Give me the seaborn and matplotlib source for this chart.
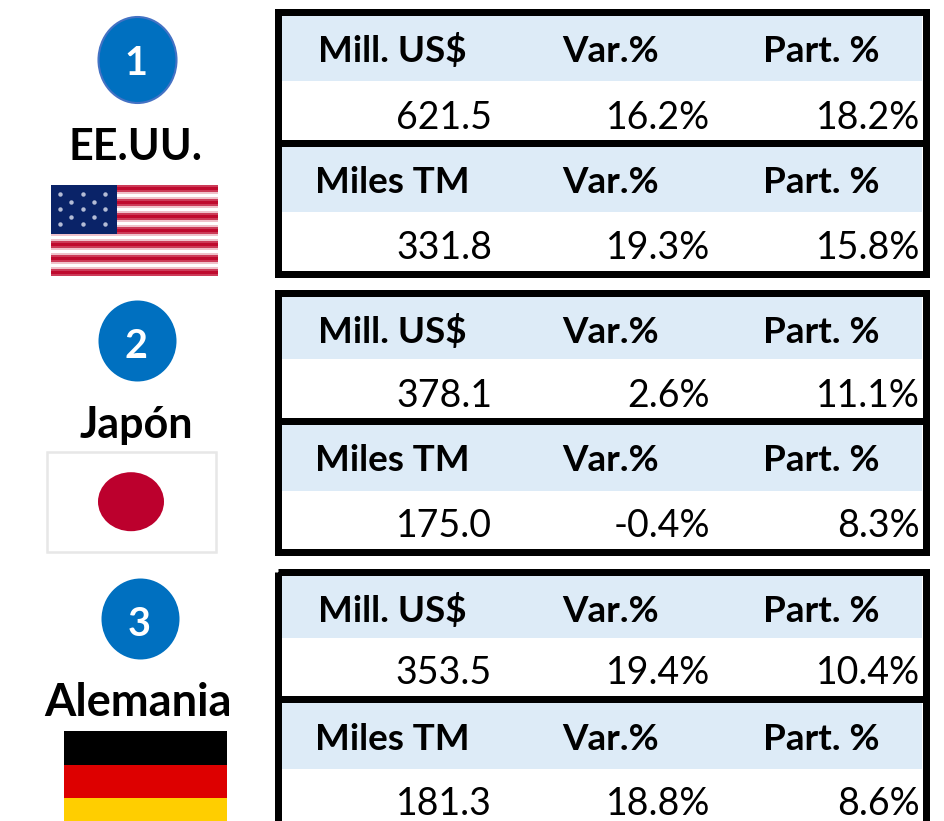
import numpy as np
import pandas as pd
import matplotlib
matplotlib.use("Agg")
import matplotlib.pyplot as plt
from matplotlib.colors import ListedColormap, LinearSegmentedColormap
from matplotlib.patches import Ellipse, Rectangle
import seaborn as sns

# ---- data ----
countries = ["EE.UU.", "Japón", "Alemania"]
ranks = [1, 2, 3]
row_titles = ["Mill. US$", "Miles TM"]
col_titles = ["Var.%", "Part. %"]
usd_values = [621.5, 378.1, 353.5]
usd_var = [16.2, 2.6, 19.4]
usd_part = [18.2, 11.1, 10.4]
tm_values = [331.8, 175.0, 181.3]
tm_var = [19.3, -0.4, 18.8]
tm_part = [15.8, 8.3, 8.6]

# ---- layout (pixels in a 944x821 canvas) ----
W, H = 944, 821
HEADER_BLUE = "#DDEBF7"
CIRCLE_BLUE = "#0070C0"
FRAMES = [(12.5, 143.5, 274.5), (293.5, 421.5, 552.5), (572, 699.5, 860)]
HEADER_SPANS = [[(16, 81), (147, 212)], [(297, 359), (425, 491)], [(575, 638), (703, 769)]]
HEAD_BASE = [(62, 193), (343, 471), (622, 750)]
VAL_BASE = [(129, 259), (407, 537), (684, 815)]
CIRCLES = [(137.5, 60, 39, 43), (137.5, 341, 39, 40.5), (140.5, 619, 39, 40.5)]
RANK_POS = [(136, 75), (136, 358), (139, 636)]
NAME_POS = [(136, 160), (136, 438), (138, 716)]
NAME_SIZES = [31.0, 31.0, 32.5]
FS_HEAD, FS_VAL, FS_RANK = 26.5, 27.0, 28.5

sns.set_theme(style="white")
plt.rcParams["font.family"] = ["Lato", "DejaVu Sans"]

fig = plt.figure(figsize=(W / 100, H / 100), dpi=100, facecolor="white")


def px_axes(x0, y0, x1, y1, **kw):
    return fig.add_axes([x0 / W, 1 - y1 / H, (x1 - x0) / W, (y1 - y0) / H], **kw)


def band(x0, y0, x1, y1, matrix, cmap, **kw):
    ax = px_axes(x0, y0, x1, y1)
    sns.heatmap(matrix, ax=ax, cmap=cmap, cbar=False, xticklabels=False,
                yticklabels=False, **kw)
    return ax


# header bands of the tables
for spans in HEADER_SPANS:
    for top, bottom in spans:
        band(281, top, 922, bottom, pd.DataFrame([[1, 1, 1]]),
             ListedColormap([HEADER_BLUE]))

# US flag: 13 softened stripes, canton on top
us_cmap = LinearSegmentedColormap.from_list("us", ["#FFFFFF", "#BF0A2E"])
red_stripe = [[0.8], [1.0], [0.8]]
white_stripe = [[0.25], [0.0], [0.25]]
stripe_shades = (red_stripe + white_stripe) * 6 + red_stripe
band(51, 185, 218, 276, pd.DataFrame(stripe_shades), us_cmap, vmin=0, vmax=1)
canton = px_axes(51, 185, 117, 234)
sns.heatmap(pd.DataFrame([[1]]), ax=canton, cmap=ListedColormap(["#0A2368"]),
            cbar=False, xticklabels=False, yticklabels=False)

# German flag
band(64, 731, 227, 832, pd.DataFrame([[0], [1], [2]]),
     ListedColormap(["#000000", "#DD0000", "#FFCE00"]), vmin=0, vmax=2)

# overlay for frames, circles and text
ov = fig.add_axes([0, 0, 1, 1], zorder=10)
ov.set_xlim(0, W)
ov.set_ylim(H, 0)
ov.axis("off")
ov.patch.set_alpha(0)

for top, mid, bottom in FRAMES:
    ov.add_patch(Rectangle((277.5, top), 648, bottom - top, fill=False,
                           edgecolor="black", linewidth=5.04, joinstyle="miter"))
    ov.plot([277.5, 925.5], [mid, mid], color="black", lw=5.04, solid_capstyle="butt")

# US stars, soft dots at this size
for y, xs in [(194, (60, 83, 105)), (202, (71, 94)), (209, (60, 83, 105)),
              (217, (71, 94)), (224, (60, 83, 105))]:
    ov.plot(xs, [y] * len(xs), ls="none", marker="o", ms=3.2, mfc="#B4BCD6", mec="none")

# Japanese flag
ov.add_patch(Rectangle((47, 452), 169, 100, facecolor="white", edgecolor="#E7E7E7", lw=1.8))
ov.add_patch(Ellipse((131, 501.7), 66, 59, facecolor="#BC002D", edgecolor="none"))

# rank circles and names
for i, (cx, cy, rx, ry) in enumerate(CIRCLES):
    ov.add_patch(Ellipse((cx, cy), 2 * rx, 2 * ry, facecolor=CIRCLE_BLUE,
                         edgecolor="#4472C4" if i == 0 else "none", lw=1.5))
    ov.text(*RANK_POS[i], str(ranks[i]), color="white", fontsize=FS_RANK,
            fontweight="bold", ha="center", va="baseline")
    ov.text(*NAME_POS[i], countries[i], color="black", fontsize=NAME_SIZES[i],
            fontweight="bold", ha="center", va="baseline")


def pct(v):
    return f"{v:.1f}%"


# table contents
series = [(usd_values, usd_var, usd_part), (tm_values, tm_var, tm_part)]
for i in range(len(countries)):
    for j, (vals, var, part) in enumerate(series):
        yh, yv = HEAD_BASE[i][j], VAL_BASE[i][j]
        ov.text(318 if j == 0 else 315, yh, row_titles[j], fontsize=FS_HEAD,
                fontweight="bold", color="black", ha="left", va="baseline")
        ov.text(562, yh, col_titles[0], fontsize=FS_HEAD, fontweight="bold",
                color="black", ha="left", va="baseline")
        ov.text(763, yh, col_titles[1], fontsize=FS_HEAD, fontweight="bold",
                color="black", ha="left", va="baseline")
        ov.text(492, yv, f"{vals[i]:.1f}", fontsize=FS_VAL, color="black",
                ha="right", va="baseline")
        ov.text(710, yv, pct(var[i]), fontsize=FS_VAL, color="black",
                ha="right", va="baseline")
        ov.text(920, yv, pct(part[i]), fontsize=FS_VAL, color="black",
                ha="right", va="baseline")

fig.savefig("out.png", dpi=100, facecolor="white")
